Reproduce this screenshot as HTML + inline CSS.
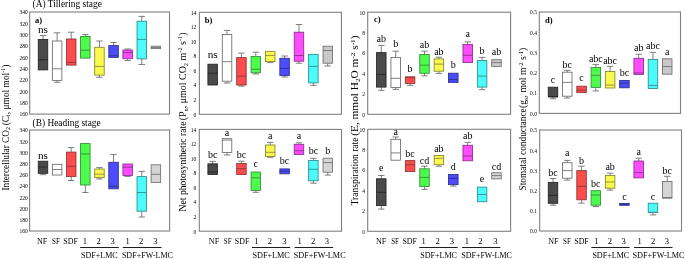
<!DOCTYPE html>
<html><head><meta charset="utf-8"><style>
html,body{margin:0;padding:0;background:#fff;}
body{width:685px;height:259px;overflow:hidden;}
svg{display:block;}
text{font-family:"Liberation Serif", serif;fill:#000;}
.tx{filter:grayscale(1);}
.tk{font-size:6.6px;text-anchor:end;fill:#000;}
.lb{font-size:10px;text-anchor:middle;}
.pl{font-size:8.6px;font-weight:bold;}
.xl{font-size:8.6px;text-anchor:middle;}
.xg{font-size:8.6px;}
.yt{font-size:10.2px;}
.st{font-size:10.2px;}
</style></head><body>
<svg width="685" height="259" viewBox="0 0 685 259">
<rect width="685" height="259" fill="#fff"/>
<rect x="29.7" y="12" width="139.8" height="102.1" fill="none" stroke="#808080" stroke-width="1.1"/>
<path d="M43 39.4V35.5M39.8 35.5H46.2" stroke="#707070" stroke-width="0.9" fill="none"/>
<rect x="38.25" y="39.4" width="9.5" height="30.5" fill="#4a4a4a" stroke="#242424" stroke-width="0.85"/>
<path d="M38.25 59.7H47.75" stroke="#242424" stroke-width="0.85"/>
<path d="M57.11 41V32.8M53.91 32.8H60.31" stroke="#707070" stroke-width="0.9" fill="none"/>
<path d="M57.11 80.4V82.3M53.91 82.3H60.31" stroke="#707070" stroke-width="0.9" fill="none"/>
<rect x="52.36" y="41" width="9.5" height="39.4" fill="#ffffff" stroke="#6a6a6a" stroke-width="0.85"/>
<path d="M52.36 68.8H61.86" stroke="#6a6a6a" stroke-width="0.85"/>
<path d="M71.22 39V32.2M68.02 32.2H74.42" stroke="#707070" stroke-width="0.9" fill="none"/>
<rect x="66.47" y="39" width="9.5" height="26.1" fill="#fc4c4c" stroke="#8a3434" stroke-width="0.85"/>
<path d="M66.47 62.4H75.97" stroke="#8a3434" stroke-width="0.85"/>
<path d="M85.33 36.5V34.6M82.13 34.6H88.53" stroke="#707070" stroke-width="0.9" fill="none"/>
<rect x="80.58" y="36.5" width="9.5" height="21.6" fill="#4cfc4c" stroke="#348a34" stroke-width="0.85"/>
<path d="M80.58 50.2H90.08" stroke="#348a34" stroke-width="0.85"/>
<path d="M99.44 47.3V41M96.24 41H102.64" stroke="#707070" stroke-width="0.9" fill="none"/>
<path d="M99.44 75.1V77.3M96.24 77.3H102.64" stroke="#707070" stroke-width="0.9" fill="none"/>
<rect x="94.69" y="47.3" width="9.5" height="27.8" fill="#fafa4e" stroke="#84842a" stroke-width="0.85"/>
<path d="M94.69 66.4H104.19" stroke="#84842a" stroke-width="0.85"/>
<path d="M113.55 45.6V42.5M110.35 42.5H116.75" stroke="#707070" stroke-width="0.9" fill="none"/>
<rect x="108.8" y="45.6" width="9.5" height="11.8" fill="#4c4cfc" stroke="#2c2c8a" stroke-width="0.85"/>
<path d="M108.8 55.8H118.3" stroke="#2c2c8a" stroke-width="0.85"/>
<path d="M127.66 50V49M124.46 49H130.86" stroke="#707070" stroke-width="0.9" fill="none"/>
<path d="M127.66 58.7V60.5M124.46 60.5H130.86" stroke="#707070" stroke-width="0.9" fill="none"/>
<rect x="122.91" y="50" width="9.5" height="8.7" fill="#fc4cfc" stroke="#8a2c8a" stroke-width="0.85"/>
<path d="M122.91 52.6H132.41" stroke="#8a2c8a" stroke-width="0.85"/>
<path d="M141.77 21.2V16.4M138.57 16.4H144.97" stroke="#707070" stroke-width="0.9" fill="none"/>
<path d="M141.77 58.9V64.5M138.57 64.5H144.97" stroke="#707070" stroke-width="0.9" fill="none"/>
<rect x="137.02" y="21.2" width="9.5" height="37.7" fill="#4cfcfc" stroke="#2c8a8a" stroke-width="0.85"/>
<path d="M137.02 39.4H146.52" stroke="#2c8a8a" stroke-width="0.85"/>
<rect x="151.13" y="46.2" width="9.5" height="2.4" fill="#c8c8c8" stroke="#6e6e6e" stroke-width="0.85"/>
<path d="M151.13 47.4H160.63" stroke="#6e6e6e" stroke-width="0.85"/>
<rect x="29.6" y="130" width="140" height="101" fill="none" stroke="#808080" stroke-width="1.1"/>
<path d="M43 173.3V174.7M39.8 174.7H46.2" stroke="#707070" stroke-width="0.9" fill="none"/>
<rect x="38.25" y="161.2" width="9.5" height="12.1" fill="#4a4a4a" stroke="#242424" stroke-width="0.85"/>
<path d="M38.25 167H47.75" stroke="#242424" stroke-width="0.85"/>
<rect x="52.36" y="164.3" width="9.5" height="10.7" fill="#ffffff" stroke="#6a6a6a" stroke-width="0.85"/>
<path d="M52.36 169.5H61.86" stroke="#6a6a6a" stroke-width="0.85"/>
<path d="M71.22 152.1V147.6M68.02 147.6H74.42" stroke="#707070" stroke-width="0.9" fill="none"/>
<path d="M71.22 176.6V180.5M68.02 180.5H74.42" stroke="#707070" stroke-width="0.9" fill="none"/>
<rect x="66.47" y="152.1" width="9.5" height="24.5" fill="#fc4c4c" stroke="#8a3434" stroke-width="0.85"/>
<path d="M66.47 166.3H75.97" stroke="#8a3434" stroke-width="0.85"/>
<path d="M85.33 185V192.5M82.13 192.5H88.53" stroke="#707070" stroke-width="0.9" fill="none"/>
<rect x="80.58" y="143.6" width="9.5" height="41.4" fill="#4cfc4c" stroke="#348a34" stroke-width="0.85"/>
<path d="M80.58 154H90.08" stroke="#348a34" stroke-width="0.85"/>
<path d="M99.44 169V167.6M96.24 167.6H102.64" stroke="#707070" stroke-width="0.9" fill="none"/>
<path d="M99.44 177.6V179M96.24 179H102.64" stroke="#707070" stroke-width="0.9" fill="none"/>
<rect x="94.69" y="169" width="9.5" height="8.6" fill="#fafa4e" stroke="#84842a" stroke-width="0.85"/>
<path d="M94.69 174.2H104.19" stroke="#84842a" stroke-width="0.85"/>
<path d="M113.55 162.3V154.4M110.35 154.4H116.75" stroke="#707070" stroke-width="0.9" fill="none"/>
<rect x="108.8" y="162.3" width="9.5" height="26.5" fill="#4c4cfc" stroke="#2c2c8a" stroke-width="0.85"/>
<path d="M108.8 186.3H118.3" stroke="#2c2c8a" stroke-width="0.85"/>
<path d="M127.66 175.5V176.4M124.46 176.4H130.86" stroke="#707070" stroke-width="0.9" fill="none"/>
<rect x="122.91" y="164" width="9.5" height="11.5" fill="#fc4cfc" stroke="#8a2c8a" stroke-width="0.85"/>
<path d="M122.91 167.2H132.41" stroke="#8a2c8a" stroke-width="0.85"/>
<path d="M141.77 176.6V171.4M138.57 171.4H144.97" stroke="#707070" stroke-width="0.9" fill="none"/>
<path d="M141.77 211.2V217M138.57 217H144.97" stroke="#707070" stroke-width="0.9" fill="none"/>
<rect x="137.02" y="176.6" width="9.5" height="34.6" fill="#4cfcfc" stroke="#2c8a8a" stroke-width="0.85"/>
<path d="M137.02 192.5H146.52" stroke="#2c8a8a" stroke-width="0.85"/>
<rect x="151.13" y="164.8" width="9.5" height="17.6" fill="#d4d4d4" stroke="#6e6e6e" stroke-width="0.85"/>
<path d="M151.13 174.3H160.63" stroke="#6e6e6e" stroke-width="0.85"/>
<path d="M80.1 247.45H118.8M122.8 247.45H161.5" stroke="#1e1e1e" stroke-width="1.05"/>
<rect x="199.4" y="12.3" width="142" height="102" fill="none" stroke="#808080" stroke-width="1.1"/>
<rect x="207.9" y="64.2" width="9.5" height="20.8" fill="#4a4a4a" stroke="#242424" stroke-width="0.85"/>
<path d="M207.9 73.3H217.4" stroke="#242424" stroke-width="0.85"/>
<path d="M227.04 34.4V30.4M223.84 30.4H230.24" stroke="#707070" stroke-width="0.9" fill="none"/>
<path d="M227.04 81.2V83M223.84 83H230.24" stroke="#707070" stroke-width="0.9" fill="none"/>
<rect x="222.29" y="34.4" width="9.5" height="46.8" fill="#ffffff" stroke="#6a6a6a" stroke-width="0.85"/>
<path d="M222.29 61.7H231.79" stroke="#6a6a6a" stroke-width="0.85"/>
<path d="M241.43 57.6V53.1M238.23 53.1H244.63" stroke="#707070" stroke-width="0.9" fill="none"/>
<path d="M241.43 85V86.1M238.23 86.1H244.63" stroke="#707070" stroke-width="0.9" fill="none"/>
<rect x="236.68" y="57.6" width="9.5" height="27.4" fill="#fc4c4c" stroke="#8a3434" stroke-width="0.85"/>
<path d="M236.68 76.2H246.18" stroke="#8a3434" stroke-width="0.85"/>
<path d="M255.82 56.4V52.2M252.62 52.2H259.02" stroke="#707070" stroke-width="0.9" fill="none"/>
<path d="M255.82 72.8V74M252.62 74H259.02" stroke="#707070" stroke-width="0.9" fill="none"/>
<rect x="251.07" y="56.4" width="9.5" height="16.4" fill="#4cfc4c" stroke="#348a34" stroke-width="0.85"/>
<path d="M251.07 69.3H260.57" stroke="#348a34" stroke-width="0.85"/>
<path d="M270.21 61.6V62.6M267.01 62.6H273.41" stroke="#707070" stroke-width="0.9" fill="none"/>
<rect x="265.46" y="51.3" width="9.5" height="10.3" fill="#fafa4e" stroke="#84842a" stroke-width="0.85"/>
<path d="M265.46 55.4H274.96" stroke="#84842a" stroke-width="0.85"/>
<path d="M284.6 58.3V56M281.4 56H287.8" stroke="#707070" stroke-width="0.9" fill="none"/>
<path d="M284.6 75.5V77M281.4 77H287.8" stroke="#707070" stroke-width="0.9" fill="none"/>
<rect x="279.85" y="58.3" width="9.5" height="17.2" fill="#4c4cfc" stroke="#2c2c8a" stroke-width="0.85"/>
<path d="M279.85 68.4H289.35" stroke="#2c2c8a" stroke-width="0.85"/>
<path d="M298.99 32.2V24.5M295.79 24.5H302.19" stroke="#707070" stroke-width="0.9" fill="none"/>
<path d="M298.99 61.2V63.2M295.79 63.2H302.19" stroke="#707070" stroke-width="0.9" fill="none"/>
<rect x="294.24" y="32.2" width="9.5" height="29" fill="#fc4cfc" stroke="#8a2c8a" stroke-width="0.85"/>
<path d="M294.24 55.5H303.74" stroke="#8a2c8a" stroke-width="0.85"/>
<path d="M313.38 82.9V85.4M310.18 85.4H316.58" stroke="#707070" stroke-width="0.9" fill="none"/>
<rect x="308.63" y="54.4" width="9.5" height="28.5" fill="#4cfcfc" stroke="#2c8a8a" stroke-width="0.85"/>
<path d="M308.63 66.4H318.13" stroke="#2c8a8a" stroke-width="0.85"/>
<path d="M327.77 63.2V66M324.57 66H330.97" stroke="#707070" stroke-width="0.9" fill="none"/>
<rect x="323.02" y="46.2" width="9.5" height="17" fill="#c8c8c8" stroke="#6e6e6e" stroke-width="0.85"/>
<path d="M323.02 50.5H332.52" stroke="#6e6e6e" stroke-width="0.85"/>
<rect x="199.3" y="129.4" width="142.2" height="101.8" fill="none" stroke="#808080" stroke-width="1.1"/>
<path d="M212.65 163.8V161.4M209.45 161.4H215.85" stroke="#707070" stroke-width="0.9" fill="none"/>
<rect x="207.9" y="163.8" width="9.5" height="10.7" fill="#4a4a4a" stroke="#242424" stroke-width="0.85"/>
<path d="M207.9 172H217.4" stroke="#242424" stroke-width="0.85"/>
<path d="M227.04 152.5V155M223.84 155H230.24" stroke="#707070" stroke-width="0.9" fill="none"/>
<rect x="222.29" y="138.7" width="9.5" height="13.8" fill="#ffffff" stroke="#6a6a6a" stroke-width="0.85"/>
<path d="M222.29 140.1H231.79" stroke="#6a6a6a" stroke-width="0.85"/>
<path d="M241.43 163.5V161.2M238.23 161.2H244.63" stroke="#707070" stroke-width="0.9" fill="none"/>
<rect x="236.68" y="163.5" width="9.5" height="11" fill="#fc4c4c" stroke="#8a3434" stroke-width="0.85"/>
<path d="M236.68 168.7H246.18" stroke="#8a3434" stroke-width="0.85"/>
<path d="M255.82 190.4V192.3M252.62 192.3H259.02" stroke="#707070" stroke-width="0.9" fill="none"/>
<rect x="251.07" y="172" width="9.5" height="18.4" fill="#4cfc4c" stroke="#348a34" stroke-width="0.85"/>
<path d="M251.07 177.8H260.57" stroke="#348a34" stroke-width="0.85"/>
<path d="M270.21 145V142.4M267.01 142.4H273.41" stroke="#707070" stroke-width="0.9" fill="none"/>
<path d="M270.21 156.5V157.3M267.01 157.3H273.41" stroke="#707070" stroke-width="0.9" fill="none"/>
<rect x="265.46" y="145" width="9.5" height="11.5" fill="#fafa4e" stroke="#84842a" stroke-width="0.85"/>
<path d="M265.46 152.3H274.96" stroke="#84842a" stroke-width="0.85"/>
<rect x="279.85" y="168.9" width="9.5" height="4.9" fill="#4c4cfc" stroke="#2c2c8a" stroke-width="0.85"/>
<path d="M279.85 171.2H289.35" stroke="#2c2c8a" stroke-width="0.85"/>
<path d="M298.99 144.3V142.8M295.79 142.8H302.19" stroke="#707070" stroke-width="0.9" fill="none"/>
<rect x="294.24" y="144.3" width="9.5" height="10.1" fill="#fc4cfc" stroke="#8a2c8a" stroke-width="0.85"/>
<path d="M294.24 150.7H303.74" stroke="#8a2c8a" stroke-width="0.85"/>
<path d="M313.38 160.5V158.3M310.18 158.3H316.58" stroke="#707070" stroke-width="0.9" fill="none"/>
<path d="M313.38 180.8V183.2M310.18 183.2H316.58" stroke="#707070" stroke-width="0.9" fill="none"/>
<rect x="308.63" y="160.5" width="9.5" height="20.3" fill="#4cfcfc" stroke="#2c8a8a" stroke-width="0.85"/>
<path d="M308.63 169.3H318.13" stroke="#2c8a8a" stroke-width="0.85"/>
<path d="M327.77 172.2V175.1M324.57 175.1H330.97" stroke="#707070" stroke-width="0.9" fill="none"/>
<rect x="323.02" y="158.2" width="9.5" height="14" fill="#d4d4d4" stroke="#6e6e6e" stroke-width="0.85"/>
<path d="M323.02 162.6H332.52" stroke="#6e6e6e" stroke-width="0.85"/>
<path d="M251.9 247.45H290.2M294.6 247.45H333.1" stroke="#1e1e1e" stroke-width="1.05"/>
<rect x="367.7" y="12.2" width="142.9" height="102.1" fill="none" stroke="#808080" stroke-width="1.1"/>
<path d="M381.3 52.6V45.4M378.1 45.4H384.5" stroke="#707070" stroke-width="0.9" fill="none"/>
<path d="M381.3 87.1V90.3M378.1 90.3H384.5" stroke="#707070" stroke-width="0.9" fill="none"/>
<rect x="376.55" y="52.6" width="9.5" height="34.5" fill="#4a4a4a" stroke="#242424" stroke-width="0.85"/>
<path d="M376.55 74.4H386.05" stroke="#242424" stroke-width="0.85"/>
<path d="M395.7 57.4V51.2M392.5 51.2H398.9" stroke="#707070" stroke-width="0.9" fill="none"/>
<path d="M395.7 87.5V89.3M392.5 89.3H398.9" stroke="#707070" stroke-width="0.9" fill="none"/>
<rect x="390.95" y="57.4" width="9.5" height="30.1" fill="#ffffff" stroke="#6a6a6a" stroke-width="0.85"/>
<path d="M390.95 78.3H400.45" stroke="#6a6a6a" stroke-width="0.85"/>
<path d="M410.1 83.5V85.3M406.9 85.3H413.3" stroke="#707070" stroke-width="0.9" fill="none"/>
<rect x="405.35" y="76.8" width="9.5" height="6.7" fill="#fc4c4c" stroke="#8a3434" stroke-width="0.85"/>
<path d="M405.35 77.7H414.85" stroke="#8a3434" stroke-width="0.85"/>
<path d="M424.5 54.5V51.2M421.3 51.2H427.7" stroke="#707070" stroke-width="0.9" fill="none"/>
<path d="M424.5 73.3V75.8M421.3 75.8H427.7" stroke="#707070" stroke-width="0.9" fill="none"/>
<rect x="419.75" y="54.5" width="9.5" height="18.8" fill="#4cfc4c" stroke="#348a34" stroke-width="0.85"/>
<path d="M419.75 65.1H429.25" stroke="#348a34" stroke-width="0.85"/>
<path d="M438.9 58.9V57.2M435.7 57.2H442.1" stroke="#707070" stroke-width="0.9" fill="none"/>
<path d="M438.9 71.2V73.4M435.7 73.4H442.1" stroke="#707070" stroke-width="0.9" fill="none"/>
<rect x="434.15" y="58.9" width="9.5" height="12.3" fill="#fafa4e" stroke="#84842a" stroke-width="0.85"/>
<path d="M434.15 64.1H443.65" stroke="#84842a" stroke-width="0.85"/>
<rect x="448.55" y="73.2" width="9.5" height="9.2" fill="#4c4cfc" stroke="#2c2c8a" stroke-width="0.85"/>
<path d="M448.55 79.6H458.05" stroke="#2c2c8a" stroke-width="0.85"/>
<path d="M467.7 44.4V41.9M464.5 41.9H470.9" stroke="#707070" stroke-width="0.9" fill="none"/>
<rect x="462.95" y="44.4" width="9.5" height="18.2" fill="#fc4cfc" stroke="#8a2c8a" stroke-width="0.85"/>
<path d="M462.95 55.3H472.45" stroke="#8a2c8a" stroke-width="0.85"/>
<path d="M482.1 60.6V57.4M478.9 57.4H485.3" stroke="#707070" stroke-width="0.9" fill="none"/>
<path d="M482.1 87.1V89.7M478.9 89.7H485.3" stroke="#707070" stroke-width="0.9" fill="none"/>
<rect x="477.35" y="60.6" width="9.5" height="26.5" fill="#4cfcfc" stroke="#2c8a8a" stroke-width="0.85"/>
<path d="M477.35 76.1H486.85" stroke="#2c8a8a" stroke-width="0.85"/>
<rect x="491.75" y="59.7" width="9.5" height="6.7" fill="#c8c8c8" stroke="#6e6e6e" stroke-width="0.85"/>
<path d="M491.75 62.6H501.25" stroke="#6e6e6e" stroke-width="0.85"/>
<rect x="367.7" y="129.3" width="142.9" height="102" fill="none" stroke="#808080" stroke-width="1.1"/>
<path d="M381.3 178.8V175.5M378.1 175.5H384.5" stroke="#707070" stroke-width="0.9" fill="none"/>
<path d="M381.3 205.6V209.1M378.1 209.1H384.5" stroke="#707070" stroke-width="0.9" fill="none"/>
<rect x="376.55" y="178.8" width="9.5" height="26.8" fill="#4a4a4a" stroke="#242424" stroke-width="0.85"/>
<path d="M376.55 192.3H386.05" stroke="#242424" stroke-width="0.85"/>
<path d="M395.7 139.3V137M392.5 137H398.9" stroke="#707070" stroke-width="0.9" fill="none"/>
<rect x="390.95" y="139.3" width="9.5" height="20.9" fill="#ffffff" stroke="#6a6a6a" stroke-width="0.85"/>
<path d="M390.95 152.9H400.45" stroke="#6a6a6a" stroke-width="0.85"/>
<rect x="405.35" y="160.6" width="9.5" height="11" fill="#fc4c4c" stroke="#8a3434" stroke-width="0.85"/>
<path d="M405.35 164.8H414.85" stroke="#8a3434" stroke-width="0.85"/>
<path d="M424.5 168.8V166.2M421.3 166.2H427.7" stroke="#707070" stroke-width="0.9" fill="none"/>
<path d="M424.5 186.5V189.4M421.3 189.4H427.7" stroke="#707070" stroke-width="0.9" fill="none"/>
<rect x="419.75" y="168.8" width="9.5" height="17.7" fill="#4cfc4c" stroke="#348a34" stroke-width="0.85"/>
<path d="M419.75 177.4H429.25" stroke="#348a34" stroke-width="0.85"/>
<path d="M438.9 164.7V166.2M435.7 166.2H442.1" stroke="#707070" stroke-width="0.9" fill="none"/>
<rect x="434.15" y="155.4" width="9.5" height="9.3" fill="#fafa4e" stroke="#84842a" stroke-width="0.85"/>
<path d="M434.15 158.3H443.65" stroke="#84842a" stroke-width="0.85"/>
<path d="M453.3 184.6V186.1M450.1 186.1H456.5" stroke="#707070" stroke-width="0.9" fill="none"/>
<rect x="448.55" y="174.5" width="9.5" height="10.1" fill="#4c4cfc" stroke="#2c2c8a" stroke-width="0.85"/>
<path d="M448.55 178.4H458.05" stroke="#2c2c8a" stroke-width="0.85"/>
<path d="M467.7 145.3V142.4M464.5 142.4H470.9" stroke="#707070" stroke-width="0.9" fill="none"/>
<rect x="462.95" y="145.3" width="9.5" height="15.5" fill="#fc4cfc" stroke="#8a2c8a" stroke-width="0.85"/>
<path d="M462.95 156H472.45" stroke="#8a2c8a" stroke-width="0.85"/>
<rect x="477.35" y="187.1" width="9.5" height="14.6" fill="#4cfcfc" stroke="#2c8a8a" stroke-width="0.85"/>
<path d="M477.35 194.5H486.85" stroke="#2c8a8a" stroke-width="0.85"/>
<rect x="491.75" y="172.7" width="9.5" height="6.2" fill="#d4d4d4" stroke="#6e6e6e" stroke-width="0.85"/>
<path d="M491.75 175.6H501.25" stroke="#6e6e6e" stroke-width="0.85"/>
<path d="M419.3 247.45H457.6M462 247.45H500.3" stroke="#1e1e1e" stroke-width="1.05"/>
<rect x="539.3" y="12" width="141.2" height="101.4" fill="none" stroke="#808080" stroke-width="1.1"/>
<path d="M553 97V98.8M549.8 98.8H556.2" stroke="#707070" stroke-width="0.9" fill="none"/>
<rect x="548.25" y="87.2" width="9.5" height="9.8" fill="#4a4a4a" stroke="#242424" stroke-width="0.85"/>
<path d="M548.25 96.6H557.75" stroke="#242424" stroke-width="0.85"/>
<path d="M567.28 72.2V70.4M564.08 70.4H570.48" stroke="#707070" stroke-width="0.9" fill="none"/>
<path d="M567.28 96.2V98M564.08 98H570.48" stroke="#707070" stroke-width="0.9" fill="none"/>
<rect x="562.53" y="72.2" width="9.5" height="24" fill="#ffffff" stroke="#6a6a6a" stroke-width="0.85"/>
<path d="M562.53 82.4H572.03" stroke="#6a6a6a" stroke-width="0.85"/>
<rect x="576.81" y="86.2" width="9.5" height="6.4" fill="#fc4c4c" stroke="#8a3434" stroke-width="0.85"/>
<path d="M576.81 90.2H586.31" stroke="#8a3434" stroke-width="0.85"/>
<path d="M595.84 67.5V64.6M592.64 64.6H599.04" stroke="#707070" stroke-width="0.9" fill="none"/>
<path d="M595.84 87.4V90.9M592.64 90.9H599.04" stroke="#707070" stroke-width="0.9" fill="none"/>
<rect x="591.09" y="67.5" width="9.5" height="19.9" fill="#4cfc4c" stroke="#348a34" stroke-width="0.85"/>
<path d="M591.09 75.3H600.59" stroke="#348a34" stroke-width="0.85"/>
<path d="M610.12 71.5V66.4M606.92 66.4H613.32" stroke="#707070" stroke-width="0.9" fill="none"/>
<rect x="605.37" y="71.5" width="9.5" height="16.5" fill="#fafa4e" stroke="#84842a" stroke-width="0.85"/>
<path d="M605.37 85.1H614.87" stroke="#84842a" stroke-width="0.85"/>
<rect x="619.65" y="80.4" width="9.5" height="7.4" fill="#4c4cfc" stroke="#2c2c8a" stroke-width="0.85"/>
<path d="M619.65 83.2H629.15" stroke="#2c2c8a" stroke-width="0.85"/>
<path d="M638.68 58.3V54.3M635.48 54.3H641.88" stroke="#707070" stroke-width="0.9" fill="none"/>
<rect x="633.93" y="58.3" width="9.5" height="16.1" fill="#fc4cfc" stroke="#8a2c8a" stroke-width="0.85"/>
<path d="M633.93 72.9H643.43" stroke="#8a2c8a" stroke-width="0.85"/>
<path d="M652.96 59.5V52.4M649.76 52.4H656.16" stroke="#707070" stroke-width="0.9" fill="none"/>
<rect x="648.21" y="59.5" width="9.5" height="28.9" fill="#4cfcfc" stroke="#2c8a8a" stroke-width="0.85"/>
<path d="M648.21 85.4H657.71" stroke="#2c8a8a" stroke-width="0.85"/>
<rect x="662.49" y="58.8" width="9.5" height="15.4" fill="#c8c8c8" stroke="#6e6e6e" stroke-width="0.85"/>
<path d="M662.49 66.5H671.99" stroke="#6e6e6e" stroke-width="0.85"/>
<rect x="539.7" y="130" width="141.8" height="101" fill="none" stroke="#808080" stroke-width="1.1"/>
<path d="M553 182.4V178.5M549.8 178.5H556.2" stroke="#707070" stroke-width="0.9" fill="none"/>
<path d="M553 203.3V205.2M549.8 205.2H556.2" stroke="#707070" stroke-width="0.9" fill="none"/>
<rect x="548.25" y="182.4" width="9.5" height="20.9" fill="#4a4a4a" stroke="#242424" stroke-width="0.85"/>
<path d="M548.25 195.4H557.75" stroke="#242424" stroke-width="0.85"/>
<path d="M567.28 162.7V160.4M564.08 160.4H570.48" stroke="#707070" stroke-width="0.9" fill="none"/>
<path d="M567.28 178.2V180.1M564.08 180.1H570.48" stroke="#707070" stroke-width="0.9" fill="none"/>
<rect x="562.53" y="162.7" width="9.5" height="15.5" fill="#ffffff" stroke="#6a6a6a" stroke-width="0.85"/>
<path d="M562.53 170.6H572.03" stroke="#6a6a6a" stroke-width="0.85"/>
<path d="M581.56 170.6V166.2M578.36 166.2H584.76" stroke="#707070" stroke-width="0.9" fill="none"/>
<path d="M581.56 199.8V203.1M578.36 203.1H584.76" stroke="#707070" stroke-width="0.9" fill="none"/>
<rect x="576.81" y="170.6" width="9.5" height="29.2" fill="#fc4c4c" stroke="#8a3434" stroke-width="0.85"/>
<path d="M576.81 186.3H586.31" stroke="#8a3434" stroke-width="0.85"/>
<path d="M595.84 205.2V206.6M592.64 206.6H599.04" stroke="#707070" stroke-width="0.9" fill="none"/>
<rect x="591.09" y="190.7" width="9.5" height="14.5" fill="#4cfc4c" stroke="#348a34" stroke-width="0.85"/>
<path d="M591.09 195H600.59" stroke="#348a34" stroke-width="0.85"/>
<path d="M610.12 175.4V173.1M606.92 173.1H613.32" stroke="#707070" stroke-width="0.9" fill="none"/>
<path d="M610.12 188.2V190.1M606.92 190.1H613.32" stroke="#707070" stroke-width="0.9" fill="none"/>
<rect x="605.37" y="175.4" width="9.5" height="12.8" fill="#fafa4e" stroke="#84842a" stroke-width="0.85"/>
<path d="M605.37 182H614.87" stroke="#84842a" stroke-width="0.85"/>
<rect x="619.65" y="203.4" width="9.5" height="1.9" fill="#4c4cfc" stroke="#2c2c8a" stroke-width="0.85"/>
<path d="M619.65 204.3H629.15" stroke="#2c2c8a" stroke-width="0.85"/>
<path d="M638.68 161V158.2M635.48 158.2H641.88" stroke="#707070" stroke-width="0.9" fill="none"/>
<rect x="633.93" y="161" width="9.5" height="16.9" fill="#fc4cfc" stroke="#8a2c8a" stroke-width="0.85"/>
<path d="M633.93 172.6H643.43" stroke="#8a2c8a" stroke-width="0.85"/>
<path d="M652.96 212.5V214.9M649.76 214.9H656.16" stroke="#707070" stroke-width="0.9" fill="none"/>
<rect x="648.21" y="203.2" width="9.5" height="9.3" fill="#4cfcfc" stroke="#2c8a8a" stroke-width="0.85"/>
<path d="M648.21 212.3H657.71" stroke="#2c8a8a" stroke-width="0.85"/>
<path d="M667.24 181.5V176.3M664.04 176.3H670.44" stroke="#707070" stroke-width="0.9" fill="none"/>
<rect x="662.49" y="181.5" width="9.5" height="16.7" fill="#d4d4d4" stroke="#6e6e6e" stroke-width="0.85"/>
<path d="M662.49 197.5H671.99" stroke="#6e6e6e" stroke-width="0.85"/>
<path d="M591.3 247.45H629.6M634 247.45H672.5" stroke="#1e1e1e" stroke-width="1.05"/>
<g class="tx"><text x="27.7" y="14.3" class="tk" textLength="8.25" lengthAdjust="spacingAndGlyphs">340</text>
<text x="27.7" y="25.64" class="tk" textLength="8.25" lengthAdjust="spacingAndGlyphs">320</text>
<text x="27.7" y="36.99" class="tk" textLength="8.25" lengthAdjust="spacingAndGlyphs">300</text>
<text x="27.7" y="48.33" class="tk" textLength="8.25" lengthAdjust="spacingAndGlyphs">280</text>
<text x="27.7" y="59.68" class="tk" textLength="8.25" lengthAdjust="spacingAndGlyphs">260</text>
<text x="27.7" y="71.02" class="tk" textLength="8.25" lengthAdjust="spacingAndGlyphs">240</text>
<text x="27.7" y="82.37" class="tk" textLength="8.25" lengthAdjust="spacingAndGlyphs">220</text>
<text x="27.7" y="93.71" class="tk" textLength="8.25" lengthAdjust="spacingAndGlyphs">200</text>
<text x="27.7" y="105.06" class="tk" textLength="8.25" lengthAdjust="spacingAndGlyphs">180</text>
<text x="27.7" y="116.4" class="tk" textLength="8.25" lengthAdjust="spacingAndGlyphs">160</text>
<text x="43" y="32.6" class="lb" textLength="10" lengthAdjust="spacingAndGlyphs">ns</text>
<text x="27.7" y="132.3" class="tk" textLength="8.25" lengthAdjust="spacingAndGlyphs">340</text>
<text x="27.7" y="143.52" class="tk" textLength="8.25" lengthAdjust="spacingAndGlyphs">320</text>
<text x="27.7" y="154.74" class="tk" textLength="8.25" lengthAdjust="spacingAndGlyphs">300</text>
<text x="27.7" y="165.97" class="tk" textLength="8.25" lengthAdjust="spacingAndGlyphs">280</text>
<text x="27.7" y="177.19" class="tk" textLength="8.25" lengthAdjust="spacingAndGlyphs">260</text>
<text x="27.7" y="188.41" class="tk" textLength="8.25" lengthAdjust="spacingAndGlyphs">240</text>
<text x="27.7" y="199.63" class="tk" textLength="8.25" lengthAdjust="spacingAndGlyphs">220</text>
<text x="27.7" y="210.86" class="tk" textLength="8.25" lengthAdjust="spacingAndGlyphs">200</text>
<text x="27.7" y="222.08" class="tk" textLength="8.25" lengthAdjust="spacingAndGlyphs">180</text>
<text x="27.7" y="233.3" class="tk" textLength="8.25" lengthAdjust="spacingAndGlyphs">160</text>
<text x="43" y="158.8" class="lb" textLength="10" lengthAdjust="spacingAndGlyphs">ns</text>
<text x="35" y="23.3" class="pl">a)</text>
<text x="42.05" y="243.8" class="xl" textLength="10.3" lengthAdjust="spacingAndGlyphs">NF</text>
<text x="55.9" y="243.8" class="xl" textLength="7.8" lengthAdjust="spacingAndGlyphs">SF</text>
<text x="70.6" y="243.8" class="xl" textLength="14.5" lengthAdjust="spacingAndGlyphs">SDF</text>
<text x="84.9" y="243.8" class="xl">1</text>
<text x="98.6" y="243.8" class="xl">2</text>
<text x="112.6" y="243.8" class="xl">3</text>
<text x="127.6" y="243.8" class="xl">1</text>
<text x="141.2" y="243.8" class="xl">2</text>
<text x="155.4" y="243.8" class="xl">3</text>
<text x="81.1" y="257.6" class="xg" textLength="36.5" lengthAdjust="spacingAndGlyphs">SDF+LMC</text>
<text x="121.9" y="257.6" class="xg" textLength="51" lengthAdjust="spacingAndGlyphs">SDF+FW-LMC</text>
<text transform="translate(8.5 190.6) rotate(-90)" class="yt" textLength="63.6" lengthAdjust="spacingAndGlyphs">Intercellular CO<tspan dy="1.6" font-size="6.5">2</tspan><tspan dy="-1.6"></tspan></text>
<text transform="translate(8.5 125.3) rotate(-90)" class="yt" textLength="60.7" lengthAdjust="spacingAndGlyphs">(C<tspan dy="1.6" font-size="6.5">i</tspan><tspan dy="-1.6">, μmol mol</tspan><tspan dy="-3.6" font-size="6.5">-1</tspan><tspan dy="3.6">)</tspan></text>
<text x="196.2" y="14.6" class="tk" textLength="5.5" lengthAdjust="spacingAndGlyphs">14</text>
<text x="196.2" y="29.17" class="tk" textLength="5.5" lengthAdjust="spacingAndGlyphs">12</text>
<text x="196.2" y="43.74" class="tk" textLength="5.5" lengthAdjust="spacingAndGlyphs">10</text>
<text x="196.2" y="58.31" class="tk" textLength="2.75" lengthAdjust="spacingAndGlyphs">8</text>
<text x="196.2" y="72.89" class="tk" textLength="2.75" lengthAdjust="spacingAndGlyphs">6</text>
<text x="196.2" y="87.46" class="tk" textLength="2.75" lengthAdjust="spacingAndGlyphs">4</text>
<text x="196.2" y="102.03" class="tk" textLength="2.75" lengthAdjust="spacingAndGlyphs">2</text>
<text x="196.2" y="116.6" class="tk" textLength="2.75" lengthAdjust="spacingAndGlyphs">0</text>
<text x="212.65" y="58.2" class="lb" textLength="10" lengthAdjust="spacingAndGlyphs">ns</text>
<text x="196.2" y="131.7" class="tk" textLength="5.5" lengthAdjust="spacingAndGlyphs">14</text>
<text x="196.2" y="146.24" class="tk" textLength="5.5" lengthAdjust="spacingAndGlyphs">12</text>
<text x="196.2" y="160.79" class="tk" textLength="5.5" lengthAdjust="spacingAndGlyphs">10</text>
<text x="196.2" y="175.33" class="tk" textLength="2.75" lengthAdjust="spacingAndGlyphs">8</text>
<text x="196.2" y="189.87" class="tk" textLength="2.75" lengthAdjust="spacingAndGlyphs">6</text>
<text x="196.2" y="204.41" class="tk" textLength="2.75" lengthAdjust="spacingAndGlyphs">4</text>
<text x="196.2" y="218.96" class="tk" textLength="2.75" lengthAdjust="spacingAndGlyphs">2</text>
<text x="196.2" y="233.5" class="tk" textLength="2.75" lengthAdjust="spacingAndGlyphs">0</text>
<text x="212.65" y="157.8" class="lb">bc</text>
<text x="227.04" y="135.5" class="lb">a</text>
<text x="241.43" y="157.8" class="lb">bc</text>
<text x="255.82" y="167" class="lb">c</text>
<text x="270.21" y="138.5" class="lb">a</text>
<text x="284.6" y="164.2" class="lb">bc</text>
<text x="298.99" y="138.5" class="lb">a</text>
<text x="313.38" y="154.4" class="lb">bc</text>
<text x="327.77" y="153.5" class="lb">b</text>
<text x="204.8" y="23.4" class="pl">b)</text>
<text x="214" y="243.8" class="xl" textLength="10.3" lengthAdjust="spacingAndGlyphs">NF</text>
<text x="227.65" y="243.8" class="xl" textLength="7.8" lengthAdjust="spacingAndGlyphs">SF</text>
<text x="242.1" y="243.8" class="xl" textLength="14.5" lengthAdjust="spacingAndGlyphs">SDF</text>
<text x="256.5" y="243.8" class="xl">1</text>
<text x="270" y="243.8" class="xl">2</text>
<text x="284.3" y="243.8" class="xl">3</text>
<text x="299.6" y="243.8" class="xl">1</text>
<text x="313.2" y="243.8" class="xl">2</text>
<text x="327" y="243.8" class="xl">3</text>
<text x="252.5" y="257.6" class="xg" textLength="37.3" lengthAdjust="spacingAndGlyphs">SDF+LMC</text>
<text x="293.7" y="257.6" class="xg" textLength="51.9" lengthAdjust="spacingAndGlyphs">SDF+FW-LMC</text>
<text transform="translate(186 211.4) rotate(-90)" class="yt" textLength="89.9" lengthAdjust="spacingAndGlyphs">Net photosynthetic rate</text>
<text transform="translate(186 120.3) rotate(-90)" class="yt" textLength="87.9" lengthAdjust="spacingAndGlyphs">(P<tspan dy="1.6" font-size="6.5">n</tspan><tspan dy="-1.6">, μmol CO</tspan><tspan dy="1.6" font-size="6.5">2</tspan><tspan dy="-1.6"> m</tspan><tspan dy="-3.6" font-size="6.5">-2</tspan><tspan dy="3.6"> s</tspan><tspan dy="-3.6" font-size="6.5">-1</tspan><tspan dy="3.6">)</tspan></text>
<text x="365" y="14.5" class="tk" textLength="5.5" lengthAdjust="spacingAndGlyphs">10</text>
<text x="365" y="34.92" class="tk" textLength="2.75" lengthAdjust="spacingAndGlyphs">8</text>
<text x="365" y="55.34" class="tk" textLength="2.75" lengthAdjust="spacingAndGlyphs">6</text>
<text x="365" y="75.76" class="tk" textLength="2.75" lengthAdjust="spacingAndGlyphs">4</text>
<text x="365" y="96.18" class="tk" textLength="2.75" lengthAdjust="spacingAndGlyphs">2</text>
<text x="365" y="116.6" class="tk" textLength="2.75" lengthAdjust="spacingAndGlyphs">0</text>
<text x="381.3" y="42.1" class="lb">ab</text>
<text x="395.7" y="47.3" class="lb">b</text>
<text x="410.1" y="72.4" class="lb">b</text>
<text x="424.5" y="47.7" class="lb">ab</text>
<text x="438.9" y="54.7" class="lb">ab</text>
<text x="453.3" y="67.6" class="lb">b</text>
<text x="467.7" y="37.4" class="lb">a</text>
<text x="482.1" y="53.6" class="lb">b</text>
<text x="496.5" y="55.2" class="lb">ab</text>
<text x="365" y="131.6" class="tk" textLength="5.5" lengthAdjust="spacingAndGlyphs">10</text>
<text x="365" y="152" class="tk" textLength="2.75" lengthAdjust="spacingAndGlyphs">8</text>
<text x="365" y="172.4" class="tk" textLength="2.75" lengthAdjust="spacingAndGlyphs">6</text>
<text x="365" y="192.8" class="tk" textLength="2.75" lengthAdjust="spacingAndGlyphs">4</text>
<text x="365" y="213.2" class="tk" textLength="2.75" lengthAdjust="spacingAndGlyphs">2</text>
<text x="365" y="233.6" class="tk" textLength="2.75" lengthAdjust="spacingAndGlyphs">0</text>
<text x="381.3" y="171" class="lb">e</text>
<text x="395.7" y="135.3" class="lb">a</text>
<text x="410.1" y="156.7" class="lb">bc</text>
<text x="424.5" y="163.8" class="lb">cd</text>
<text x="438.9" y="152" class="lb">ab</text>
<text x="453.3" y="169.9" class="lb">d</text>
<text x="467.7" y="139.4" class="lb">ab</text>
<text x="482.1" y="181.9" class="lb">e</text>
<text x="496.5" y="169.6" class="lb">cd</text>
<text x="374" y="22.2" class="pl">c)</text>
<text x="381.1" y="243.8" class="xl" textLength="10.3" lengthAdjust="spacingAndGlyphs">NF</text>
<text x="395.1" y="243.8" class="xl" textLength="7.8" lengthAdjust="spacingAndGlyphs">SF</text>
<text x="409.65" y="243.8" class="xl" textLength="14.5" lengthAdjust="spacingAndGlyphs">SDF</text>
<text x="423.7" y="243.8" class="xl">1</text>
<text x="437.7" y="243.8" class="xl">2</text>
<text x="451.9" y="243.8" class="xl">3</text>
<text x="466.8" y="243.8" class="xl">1</text>
<text x="480.4" y="243.8" class="xl">2</text>
<text x="495.3" y="243.8" class="xl">3</text>
<text x="420.2" y="257.6" class="xg" textLength="36.8" lengthAdjust="spacingAndGlyphs">SDF+LMC</text>
<text x="461.3" y="257.6" class="xg" textLength="50.5" lengthAdjust="spacingAndGlyphs">SDF+FW-LMC</text>
<text transform="translate(358.4 205.5) rotate(-90)" class="yt" textLength="68" lengthAdjust="spacingAndGlyphs">Transpiration rate</text>
<text transform="translate(358.4 135.8) rotate(-90)" class="yt" textLength="100.3" lengthAdjust="spacingAndGlyphs">(E, mmol H<tspan dy="1.6" font-size="6.5">2</tspan><tspan dy="-1.6">O m</tspan><tspan dy="-3.6" font-size="6.5">-2</tspan><tspan dy="3.6"> s</tspan><tspan dy="-3.6" font-size="6.5">-1</tspan><tspan dy="3.6">)</tspan></text>
<text x="537" y="14.3" class="tk" textLength="6.9" lengthAdjust="spacingAndGlyphs">0.5</text>
<text x="537" y="34.58" class="tk" textLength="6.9" lengthAdjust="spacingAndGlyphs">0.4</text>
<text x="537" y="54.86" class="tk" textLength="6.9" lengthAdjust="spacingAndGlyphs">0.3</text>
<text x="537" y="75.14" class="tk" textLength="6.9" lengthAdjust="spacingAndGlyphs">0.2</text>
<text x="537" y="95.42" class="tk" textLength="6.9" lengthAdjust="spacingAndGlyphs">0.1</text>
<text x="537" y="115.7" class="tk" textLength="6.9" lengthAdjust="spacingAndGlyphs">0.0</text>
<text x="553" y="82.9" class="lb">c</text>
<text x="567.28" y="67.6" class="lb">bc</text>
<text x="581.56" y="80.6" class="lb">c</text>
<text x="595.84" y="62.4" class="lb">abc</text>
<text x="610.12" y="63.7" class="lb">abc</text>
<text x="624.4" y="75.6" class="lb">bc</text>
<text x="638.68" y="51.2" class="lb">ab</text>
<text x="652.96" y="48.9" class="lb">abc</text>
<text x="667.24" y="55.3" class="lb">a</text>
<text x="537" y="132.3" class="tk" textLength="6.9" lengthAdjust="spacingAndGlyphs">0.5</text>
<text x="537" y="152.5" class="tk" textLength="6.9" lengthAdjust="spacingAndGlyphs">0.4</text>
<text x="537" y="172.7" class="tk" textLength="6.9" lengthAdjust="spacingAndGlyphs">0.3</text>
<text x="537" y="192.9" class="tk" textLength="6.9" lengthAdjust="spacingAndGlyphs">0.2</text>
<text x="537" y="213.1" class="tk" textLength="6.9" lengthAdjust="spacingAndGlyphs">0.1</text>
<text x="537" y="233.3" class="tk" textLength="6.9" lengthAdjust="spacingAndGlyphs">0.0</text>
<text x="553" y="175.6" class="lb">bc</text>
<text x="567.28" y="156.3" class="lb">a</text>
<text x="581.56" y="163.8" class="lb">b</text>
<text x="595.84" y="187.4" class="lb">bc</text>
<text x="610.12" y="169.9" class="lb">ab</text>
<text x="624.4" y="199.8" class="lb">c</text>
<text x="638.68" y="155.1" class="lb">a</text>
<text x="652.96" y="199.8" class="lb">c</text>
<text x="667.24" y="173.6" class="lb">bc</text>
<text x="545" y="23.4" class="pl">d)</text>
<text x="553.3" y="243.8" class="xl" textLength="10.3" lengthAdjust="spacingAndGlyphs">NF</text>
<text x="567" y="243.8" class="xl" textLength="7.8" lengthAdjust="spacingAndGlyphs">SF</text>
<text x="581.5" y="243.8" class="xl" textLength="14.5" lengthAdjust="spacingAndGlyphs">SDF</text>
<text x="596.3" y="243.8" class="xl">1</text>
<text x="609.9" y="243.8" class="xl">2</text>
<text x="623.7" y="243.8" class="xl">3</text>
<text x="639.7" y="243.8" class="xl">1</text>
<text x="653.2" y="243.8" class="xl">2</text>
<text x="666.8" y="243.8" class="xl">3</text>
<text x="592.4" y="257.6" class="xg" textLength="36.8" lengthAdjust="spacingAndGlyphs">SDF+LMC</text>
<text x="632.4" y="257.6" class="xg" textLength="52.1" lengthAdjust="spacingAndGlyphs">SDF+FW-LMC</text>
<text transform="translate(526.2 190.5) rotate(-90)" class="yt" textLength="82.2" lengthAdjust="spacingAndGlyphs">Stomatal conductance</text>
<text transform="translate(526.2 107.9) rotate(-90)" class="yt" textLength="60.1" lengthAdjust="spacingAndGlyphs">(g<tspan dy="1.6" font-size="6.5">s</tspan><tspan dy="-1.6">, mol m</tspan><tspan dy="-3.6" font-size="6.5">-2</tspan><tspan dy="3.6"> s</tspan><tspan dy="-3.6" font-size="6.5">-1</tspan><tspan dy="3.6">)</tspan></text>
<text x="32.6" y="7.1" class="st" textLength="69.2" lengthAdjust="spacingAndGlyphs">(A) Tillering stage</text>
<text x="32.6" y="125.8" class="st" textLength="68.1" lengthAdjust="spacingAndGlyphs">(B) Heading stage</text></g>
</svg>
</body></html>
